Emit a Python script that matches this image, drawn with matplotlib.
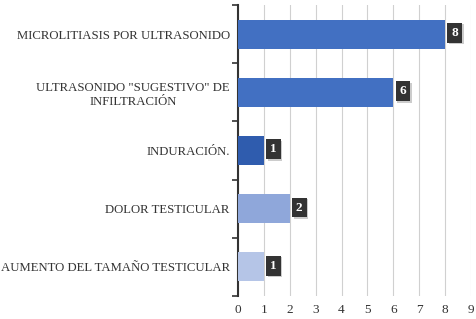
import numpy as np
import matplotlib.pyplot as plt

categories = ['MICROLITIASIS POR ULTRASONIDO',
              'ULTRASONIDO "SUGESTIVO" DE\nINFILTRACIÓN',
              'INDURACIÓN.',
              'DOLOR TESTICULAR',
              'AUMENTO DEL TAMAÑO TESTICULAR']
values = [8, 6, 1, 2, 1]
colors = ['#4270C2', '#4270C2', '#2F5CAE', '#8FA7DA', '#B5C5E7']

plt.rcParams['font.family'] = ['Liberation Serif', 'DejaVu Serif']

fig = plt.figure(figsize=(4.77, 3.19), dpi=100)
ax = fig.add_axes([238 / 477, 1 - 296 / 319, 233 / 477, 291 / 319])

n = len(categories)
y = np.arange(n)
ax.barh(y, values, height=0.5, color=colors, zorder=3)
ax.set_ylim(n - 0.5, -0.5)
ax.set_xlim(0, 9)
ax.set_xticks(range(10))
ax.grid(axis='x', color='#d0d0d0', linewidth=0.8, zorder=0)

ax.set_yticks(y)
ax.set_yticklabels(categories, fontsize=9.2, color='#333333', linespacing=1.25,
                   multialignment='center')
ax.set_yticks(np.arange(n + 1) - 0.5, minor=True)
ax.tick_params(axis='y', which='major', length=0, pad=6)
ax.tick_params(axis='y', which='minor', length=4, width=1.2, color='#333333', direction='out')
ax.tick_params(axis='x', length=0, labelsize=9.5, labelcolor='#333333', pad=6)

for s in ['top', 'right', 'bottom']:
    ax.spines[s].set_visible(False)
ax.spines['left'].set_color('#333333')
ax.spines['left'].set_linewidth(1.5)

shadow = ax.transData + plt.matplotlib.transforms.ScaledTranslation(1.5 / 100, -1.5 / 100, fig.dpi_scale_trans)
for yi, v in zip(y, values):
    # soft shadow behind the label box
    ax.text(v + 0.24, yi - 0.02, str(v), ha='left', va='center', fontsize=9.5,
            fontweight='bold', color='#9a9a9a', zorder=4, alpha=0.6,
            bbox=dict(boxstyle='square,pad=0.3', facecolor='#9a9a9a', edgecolor='none', alpha=0.5),
            transform=shadow)
    ax.text(v + 0.24, yi - 0.02, str(v), ha='left', va='center', fontsize=9.5,
            fontweight='bold', color='white', zorder=5,
            bbox=dict(boxstyle='square,pad=0.3', facecolor='#333333', edgecolor='none'))

fig.savefig('out.png', dpi=100)
